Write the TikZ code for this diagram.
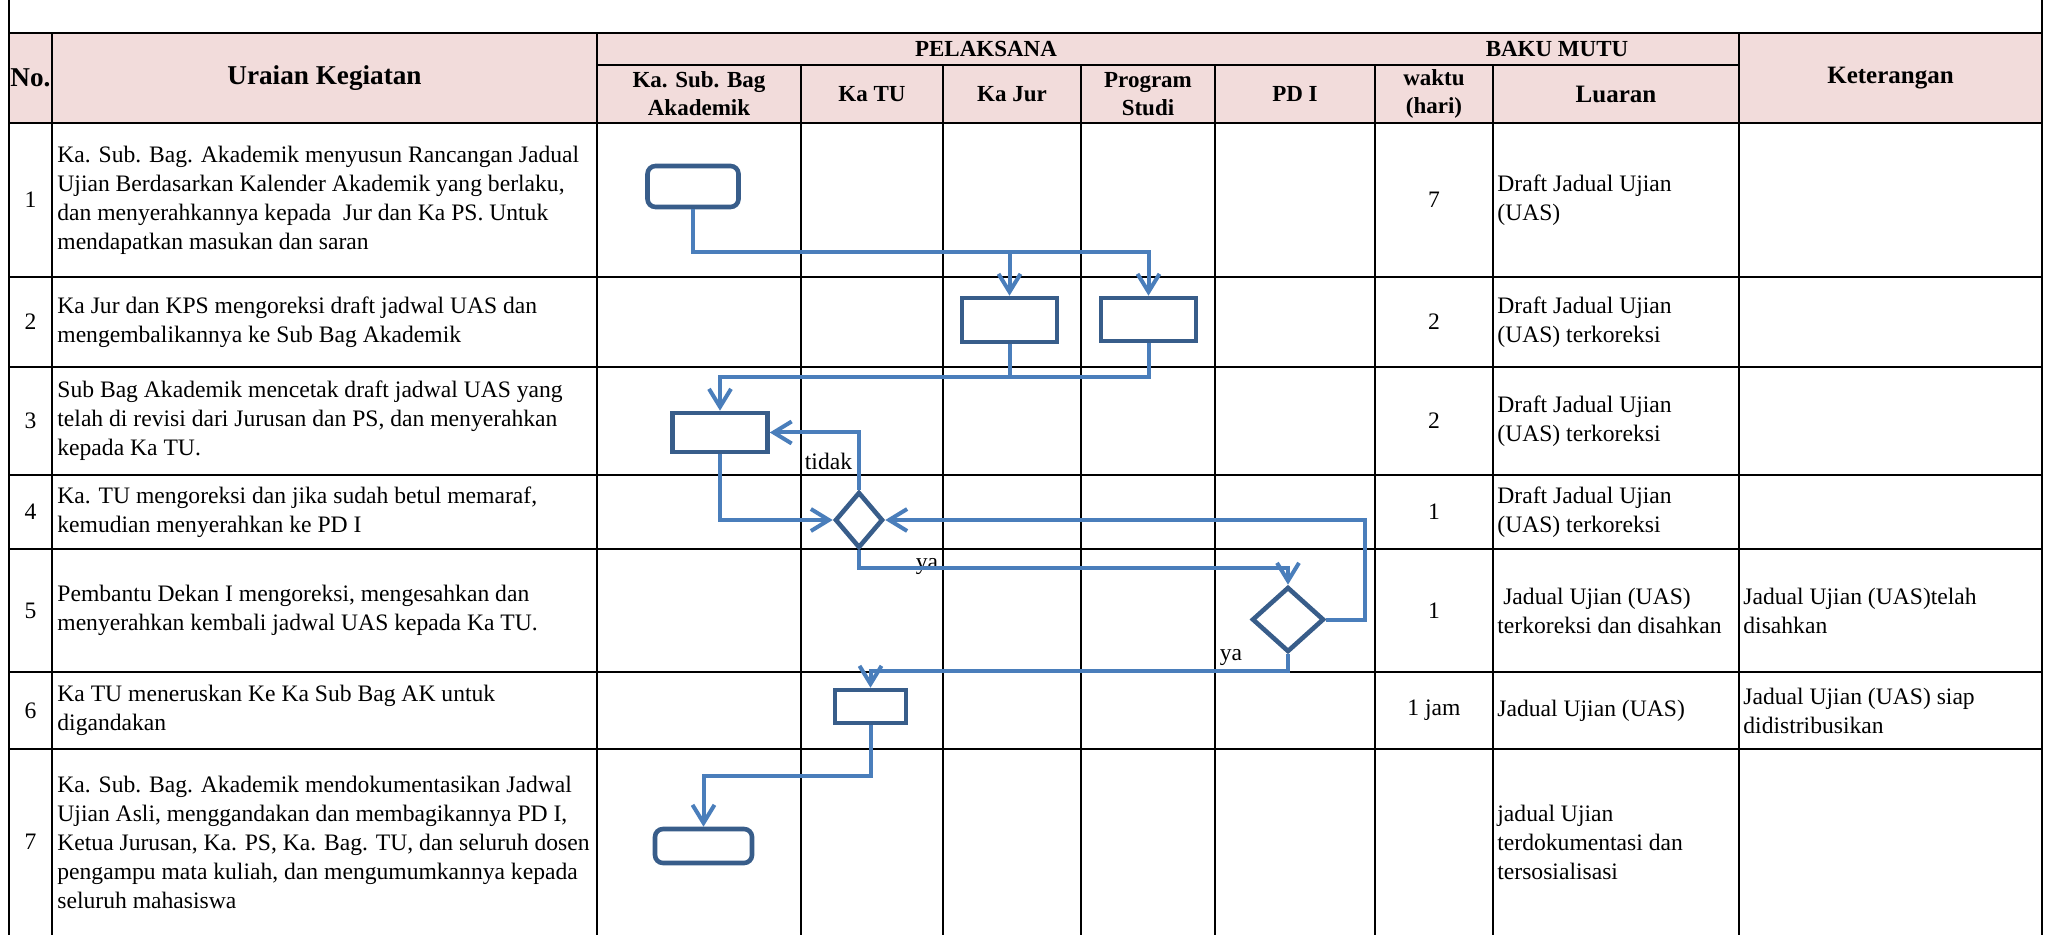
\documentclass[tikz,border=0pt]{standalone}
\usepackage{fontspec}
\setmainfont{Liberation Serif}
\usetikzlibrary{arrows.meta,shapes.geometric}
\definecolor{hdrpink}{HTML}{F2DCDB}
\definecolor{boxblue}{HTML}{385D8A}
\definecolor{lineblue}{HTML}{4A7EBB}
\tikzset{rule/.style={line width=1.3pt, line cap=rect},
    hdr/.style={font=\fontsize{11.5pt}{14pt}\selectfont\bfseries, align=center, inner sep=0pt},
    hdr big/.style={hdr, font=\fontsize{13.6pt}{16pt}\selectfont\bfseries},
    hdr mid/.style={hdr, font=\fontsize{12.5pt}{15pt}\selectfont\bfseries},
    cell/.style={anchor=west, align=left, inner sep=0pt},
    proc/.style={draw=boxblue, line width=2.3pt, fill=white, inner sep=0pt},
    decide/.style={diamond, draw=boxblue, line width=2.3pt, fill=white, inner sep=0pt},
    link/.style={draw=lineblue, line width=2pt},
    flow/.style={link, -{Straight Barb[length=9pt,width=11pt]}},
    }

\begin{document}
\begin{tikzpicture}[x=0.5pt,y=-0.5pt,font=\fontsize{11.8pt}{14.5pt}\selectfont]
\useasboundingbox (0,0) rectangle (2046,935);
% header
\fill[hdrpink] (9,33) rectangle (2042,123);
\draw[rule] (9,0) -- (9,935);
\draw[rule] (2042,0) -- (2042,935);
\draw[rule] (9,33) -- (2042,33);
\draw[rule] (597,65) -- (1739,65);
\foreach \y in {123,277,367,475,549,672,749}
    \draw[rule] (9,\y) -- (2042,\y);
\foreach \x in {52,597,1739}
    \draw[rule] (\x,33) -- (\x,935);
\foreach \x in {801,943,1081,1215,1375,1493}
    \draw[rule] (\x,65) -- (\x,935);

\node[hdr big] (hno) at (30.5,78) {No.};
\node[hdr big] (hur) at (324.5,78) {Uraian Kegiatan};
\node[hdr] (hpl) at (986,49) {PELAKSANA};
\node[hdr] (hbm) at (1557,49) {BAKU MUTU};
\node[hdr mid] (hket) at (1890.5,78) {Keterangan};
\node[hdr] (hsub) at (699,94) {Ka. Sub. Bag\\Akademik};
\node[hdr] (htu) at (872,94) {Ka TU};
\node[hdr] (hjur) at (1012,94) {Ka Jur};
\node[hdr] (hps) at (1148,94) {Program\\Studi};
\node[hdr] (hpd) at (1295,94) {PD I};
\node[hdr] (hwkt) at (1434,94) {waktu\\(hari)};
\node[hdr mid] (hlu) at (1616,94) {Luaran};

% rows
\foreach \n/\y in {1/200,2/322,3/421,4/512,5/610.5,6/710.5,7/842}
    \node[inner sep=0pt] (no\n) at (30.5,\y) {\n};
\foreach \t/\y [count=\i] in {7/200,2/322,2/421,1/512,1/610.5,1 jam/710.5}
    \node[inner sep=0pt] (wk\i) at (1434,\y) {\t};

\node[cell] (ur1) at (57,200) {Ka. Sub. Bag. Akademik menyusun Rancangan Jadual\\Ujian Berdasarkan Kalender Akademik yang berlaku,\\dan menyerahkannya kepada\ \ Jur dan Ka PS. Untuk\\mendapatkan masukan dan saran};
\node[cell] (ur2) at (57,322) {Ka Jur dan KPS mengoreksi draft jadwal UAS dan\\mengembalikannya ke Sub Bag Akademik};
\node[cell] (ur3) at (57,421) {Sub Bag Akademik mencetak draft jadwal UAS yang\\telah di revisi dari Jurusan dan PS, dan menyerahkan\\kepada Ka TU.};
\node[cell] (ur4) at (57,512) {Ka. TU mengoreksi dan jika sudah betul memaraf,\\kemudian menyerahkan ke PD I};
\node[cell] (ur5) at (57,610.5) {Pembantu Dekan I mengoreksi, mengesahkan dan\\menyerahkan kembali jadwal UAS kepada Ka TU.};
\node[cell] (ur6) at (57,710.5) {Ka TU meneruskan Ke Ka Sub Bag AK untuk\\digandakan};
\node[cell] (ur7) at (57,842) {Ka. Sub. Bag. Akademik mendokumentasikan Jadwal\\Ujian Asli, menggandakan dan membagikannya PD I,\\Ketua Jurusan, Ka. PS, Ka. Bag. TU, dan seluruh dosen\\pengampu mata kuliah, dan mengumumkannya kepada\\seluruh mahasiswa};

\node[cell] (lu1) at (1497,200) {Draft Jadual Ujian\\(UAS)};
\node[cell] (lu2) at (1497,322) {Draft Jadual Ujian\\(UAS) terkoreksi};
\node[cell] (lu3) at (1497,421) {Draft Jadual Ujian\\(UAS) terkoreksi};
\node[cell] (lu4) at (1497,512) {Draft Jadual Ujian\\(UAS) terkoreksi};
\node[cell] (lu5) at (1497,610.5) {\ Jadual Ujian (UAS)\\terkoreksi dan disahkan};
\node[cell] (lu6) at (1497,710.5) {Jadual Ujian (UAS)};
\node[cell] (lu7) at (1497,842) {jadual Ujian\\terdokumentasi dan\\tersosialisasi};
\node[cell] (ket5) at (1743,610.5) {Jadual Ujian (UAS)telah\\disahkan};
\node[cell] (ket6) at (1743,710.5) {Jadual Ujian (UAS) siap\\didistribusikan};

% flow
\node[proc, rounded corners=4pt, minimum width=45.5pt, minimum height=20.5pt] (b1) at (693,186.5) {};
\node[proc, minimum width=47.5pt, minimum height=22pt] (b2j) at (1009.5,320) {};
\node[proc, minimum width=47.5pt, minimum height=21.5pt] (b2p) at (1148.5,319.5) {};
\node[proc, minimum width=47.5pt, minimum height=19.5pt] (b3) at (720,432.5) {};
\node[decide, minimum width=24pt, minimum height=28pt] (d1) at (859,520) {};
\node[decide, minimum width=36pt, minimum height=32.5pt] (d2) at (1288,619.5) {};
\node[proc, minimum width=35.5pt, minimum height=16.5pt] (b6) at (870.5,706.5) {};
\node[proc, rounded corners=4pt, minimum width=48.5pt, minimum height=17pt] (b7) at (703.5,846) {};

\node[inner sep=0pt] (tidak) at (828.5,461) {tidak};
\node[inner sep=0pt] (ya1) at (927,567) {ya};
\node[inner sep=0pt] (ya2) at (1231,658) {ya};

\coordinate (s1) at (1148.5,252);
\coordinate (m2) at (1009.5,377);
\coordinate (y1) at (1288,568);
\coordinate (fb) at (1365,520);
\coordinate (y2) at (1288,671);
\coordinate (s7) at (703.5,776);

\draw[flow] (b1.south) |- (s1) -- (b2p.north);
\draw[flow] (b2j.north |- s1) -- (b2j.north);
\draw[link] (b2j.south) -- (m2);
\draw[flow] (b2p.south) |- (m2) -| (b3.north);
\draw[flow] (b3.south) |- (d1.west);
\draw[flow] (d1.north) |- (b3.east);%tidak
\draw[flow] (d1.south) |- (y1) -- (d2.north);%ya
\draw[flow] (d2.east) -| (fb) -- (d1.east);
\draw[flow] (d2.south) -- (y2) -| (b6.north);%ya
\draw[flow] (b6.south) |- (s7) -- (b7.north);
\end{tikzpicture}
\end{document}
